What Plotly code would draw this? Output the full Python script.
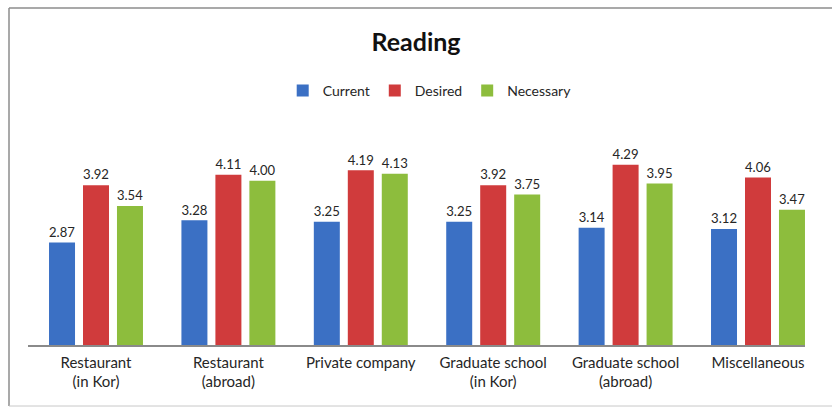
import plotly.graph_objects as go

categories = ["Restaurant<br>(in Kor)", "Restaurant<br>(abroad)", "Private company",
              "Graduate school<br>(in Kor)", "Graduate school<br>(abroad)", "Miscellaneous"]
current = [2.87, 3.28, 3.25, 3.25, 3.14, 3.12]
desired = [3.92, 4.11, 4.19, 3.92, 4.29, 4.06]
necessary = [3.54, 4.00, 4.13, 3.75, 3.95, 3.47]

series = [("Current", current, "#3B70C4"),
          ("Desired", desired, "#D03B3C"),
          ("Necessary", necessary, "#8DBD3D")]

fig = go.Figure()
for name, vals, col in series:
    fig.add_trace(go.Bar(
        x=list(range(len(categories))), y=vals, name=name,
        marker=dict(color=col, line=dict(width=0)),
        text=[f"{v:.2f}" for v in vals], textposition="outside",
        textfont=dict(size=15, color="#262626", family="Lato"),
        cliponaxis=False,
    ))

fig.update_layout(
    width=832, height=407,
    margin=dict(l=28, r=27, t=126, b=62),
    paper_bgcolor="white", plot_bgcolor="white",
    barmode="group", bargap=0.23, bargroupgap=0.235,
    font=dict(family="Lato", size=14, color="#262626"),
    title=dict(text="<b>Reading</b>", x=0.5, xanchor="center", y=0.895, yanchor="middle",
               font=dict(size=25, color="#111111", family="Lato")),
    legend=dict(orientation="h", x=0.517, xanchor="center", y=1.16, yanchor="middle",
                font=dict(size=14, color="#262626"), traceorder="normal",
                bgcolor="rgba(0,0,0,0)", itemwidth=30),
    xaxis=dict(tickmode="array", tickvals=list(range(len(categories))), ticktext=categories,
               range=[-0.5136, 5.355], showgrid=False, zeroline=False,
               showline=True, linecolor="#8a8a8a", linewidth=1.5, ticks="",
               ticklabelstandoff=3,
               tickfont=dict(size=15, color="#262626")),
    yaxis=dict(range=[1, 5], visible=False, showgrid=False),
)
fig.update_traces(textangle=0)

px = lambda p: (p - 28) / 777
py = lambda p: (345 - p) / 219
border = dict(color="#8c8c8c", width=1.5)
fig.add_shape(type="line", xref="paper", yref="paper", x0=px(9), x1=px(832), y0=py(8), y1=py(8), line=border)
fig.add_shape(type="line", xref="paper", yref="paper", x0=px(9), x1=px(9), y0=py(8), y1=py(406), line=border)
fig.add_shape(type="line", xref="paper", yref="paper", x0=px(9), x1=px(832), y0=py(406), y1=py(406),
              line=dict(color="#c8c8c8", width=1))

fig.write_html("out.html")
